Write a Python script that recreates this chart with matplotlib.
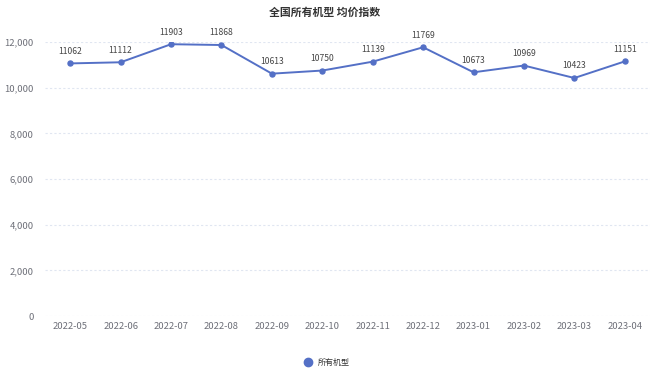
import matplotlib
matplotlib.use("Agg")
import matplotlib.pyplot as plt
from matplotlib.ticker import FuncFormatter, MultipleLocator
from matplotlib.lines import Line2D

plt.rcParams['font.family'] = ['Noto Sans CJK SC', 'DejaVu Sans']

title = "全国所有机型 均价指数"
series_name = "所有机型"
months = ["2022-05", "2022-06", "2022-07", "2022-08", "2022-09", "2022-10",
          "2022-11", "2022-12", "2023-01", "2023-02", "2023-03", "2023-04"]
values = [11062, 11112, 11903, 11868, 10613, 10750, 11139, 11769, 10673, 10969, 10423, 11151]

line_color = "#5470c6"
tick_color = "#6e7079"
grid_color = "#e0e6f1"

fig = plt.figure(figsize=(6.5, 3.71), dpi=100)
ax = fig.add_axes([45/650, (371-316)/371, 605/650, (316-42)/371])

x = list(range(len(months)))
ax.plot(x, values, color=line_color, lw=1.4, marker='o', ms=3.6, zorder=3)
for xi, v in zip(x, values):
    ax.annotate(str(v), (xi, v), xytext=(0, 5.5), textcoords='offset points',
                ha='center', va='bottom', fontsize=6.2, color='#464646')

ax.set_xlim(-0.5, len(months) - 0.5)
ax.set_ylim(0, 12000)
ax.yaxis.set_major_locator(MultipleLocator(2000))
ax.yaxis.set_major_formatter(FuncFormatter(lambda v, p: f"{int(v):,}"))
ax.set_xticks(x)
ax.set_xticklabels(months)
ax.grid(axis='y', color=grid_color, ls=(0, (2, 2)), lw=0.8)
ax.set_axisbelow(True)
for s in ax.spines.values():
    s.set_visible(False)
ax.tick_params(axis='both', length=0, labelsize=6.8, colors=tick_color)
ax.tick_params(axis='y', pad=8)
ax.tick_params(axis='x', pad=4)

fig.text(0.5, 1 - 13/371, title, ha='center', va='center', fontsize=7.8,
         fontweight='bold', color='#333333')

handle = Line2D([], [], color=line_color, marker='o', ls='none', ms=6)
fig.legend([handle], [series_name], loc='center', bbox_to_anchor=(0.5, 1 - 362/371),
           frameon=False, fontsize=5.8, handletextpad=0.2, labelcolor='#333333')

fig.savefig("out.png", dpi=100)
